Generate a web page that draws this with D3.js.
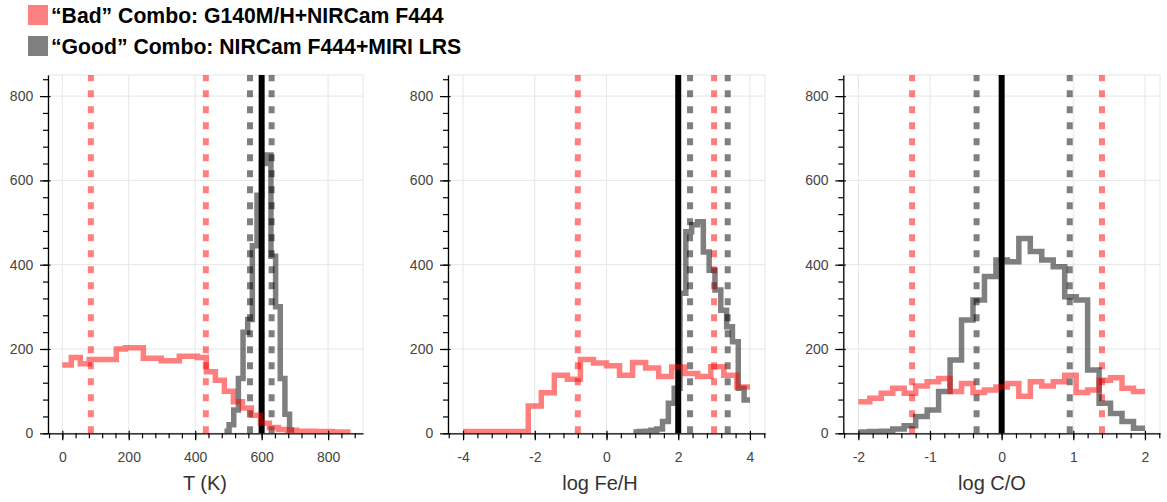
<!DOCTYPE html>
<html><head><meta charset="utf-8">
<script src="https://cdn.jsdelivr.net/npm/d3@7"></script>
<style>
body{margin:0;background:#fff}
svg{display:block}
text{font-family:"Liberation Sans",Arial,Helvetica,sans-serif}
</style>
</head><body>
<svg id="chart" width="1167" height="502"></svg>
<script>
// ---------- data ----------
const legendLabels = ["\u201cBad\u201d Combo: G140M/H+NIRCam F444", "\u201cGood\u201d Combo: NIRCam F444+MIRI LRS"];
const axisTitles = ["T (K)", "log Fe/H", "log C/O"];
const yTicks = [0, 200, 400, 600, 800];
const tTicks = [0, 200, 400, 600, 800];
const feTicks = [-4, -2, 0, 2, 4];
const coTicks = [-2, -1, 0, 1, 2];

// T (K) histograms (bin start, bin width, counts)
const tBadStart = 0, tBadWidth = 27.1;
const tBad = [162,180,165,175,175,175,200,203,203,178,178,172,172,183,183,180,146,126,100,75,60,43,24,14,9,7,5,5,4,4,3,3];
const tGoodStart = 488, tGoodWidth = 14;
const tGood = [5,20,55,130,240,270,445,565,640,660,420,300,130,45,8];
const tTruth = 600;
const tGoodBounds = [565, 630];
const tBadBounds = [86, 432];

// log Fe/H histograms
const feBadStart = -4, feBadWidth = 8 / 22;
const feBad = [4,4,4,4,4,65,96,138,128,175,167,160,138,168,155,135,157,142,135,158,138,110];
const feGoodStart = 0.75, feGoodWidth = 0.1625;
const feGood = [3,4,5,7,10,28,71,107,332,478,495,502,430,387,340,292,253,217,107,79];
const feTruth = 2.0;
const feGoodBounds = [2.33, 3.38];
const feBadBounds = [-0.8, 3.0];

// log C/O histograms
const coBadStart = -2, coBadWidth = 0.16;
const coBad = [75,83,95,107,95,112,122,130,99,118,97,103,110,118,88,122,112,122,138,97,103,126,132,107,99];
const coGoodStart = -2, coGoodWidth = 0.16;
const coGood = [3,4,5,10,18,40,55,99,174,269,316,372,411,407,462,431,411,395,324,316,150,71,47,28,12];
const coTruth = 0.0;
const coGoodBounds = [-0.35, 0.95];
const coBadBounds = [-1.25, 1.4];

// ---------- layout ----------
const panels = [
  {left:48, right:363, domain:[-43, 905], ticks:tTicks, minor:40, title:axisTitles[0], titleX:205,
   bad:{start:tBadStart, width:tBadWidth, v:tBad}, good:{start:tGoodStart, width:tGoodWidth, v:tGood},
   truth:tTruth, goodB:tGoodBounds, badB:tBadBounds},
  {left:448, right:765, domain:[-4.42, 4.42], ticks:feTicks, minor:0.4, title:axisTitles[1], titleX:600,
   bad:{start:feBadStart, width:feBadWidth, v:feBad}, good:{start:feGoodStart, width:feGoodWidth, v:feGood},
   truth:feTruth, goodB:feGoodBounds, badB:feBadBounds},
  {left:843.3, right:1160, domain:[-2.21, 2.21], ticks:coTicks, minor:0.2, title:axisTitles[2], titleX:992,
   bad:{start:coBadStart, width:coBadWidth, v:coBad}, good:{start:coGoodStart, width:coGoodWidth, v:coGood},
   truth:coTruth, goodB:coGoodBounds, badB:coBadBounds}
];
const plotTop = 75, plotBottom = 433.3;
const yDomain = [0, 850];
const RED = "#ff0000", GREY = "#000000";

const svg = d3.select("#chart");
svg.append("rect").attr("width",1167).attr("height",502).attr("fill","#fff");

panels.forEach((p, pi) => {
  const x = d3.scaleLinear().domain(p.domain).range([p.left, p.right]);
  const y = d3.scaleLinear().domain(yDomain).range([plotBottom, plotTop]);
  const g = svg.append("g");
  const clipId = "clip" + pi;
  svg.append("clipPath").attr("id", clipId).append("rect")
    .attr("x", p.left).attr("y", plotTop).attr("width", p.right - p.left).attr("height", plotBottom - plotTop);

  // grid
  const grid = g.append("g").attr("stroke", "#e6e6e6").attr("stroke-width", 1);
  p.ticks.forEach(t => grid.append("line").attr("x1", x(t)).attr("x2", x(t)).attr("y1", plotTop).attr("y2", plotBottom));
  yTicks.forEach(t => grid.append("line").attr("x1", p.left).attr("x2", p.right).attr("y1", y(t)).attr("y2", y(t)));
  g.append("rect").attr("x", p.left).attr("y", plotTop).attr("width", p.right - p.left).attr("height", plotBottom - plotTop)
    .attr("fill", "none").attr("stroke", "#e6e6e6").attr("stroke-width", 1);

  const plot = g.append("g").attr("clip-path", `url(#${clipId})`);

  // vertical lines
  const vline = (val, color, op, dash) => {
    const l = plot.append("line").attr("x1", x(val)).attr("x2", x(val))
      .attr("y1", y(0)).attr("y2", y(yDomain[1]))
      .attr("stroke", color).attr("stroke-opacity", op).attr("stroke-width", 6);
    if (dash) l.attr("stroke-dasharray", "7,9");
  };
  p.badB.forEach(v => vline(v, RED, 0.5, true));
  p.goodB.forEach(v => vline(v, GREY, 0.5, true));
  vline(p.truth, "#000", 1, false);

  // step histograms
  const line = d3.line().x(d => x(d[0])).y(d => y(d[1])).curve(d3.curveStepAfter);
  const hist = (h, color) => {
    const edges = d3.range(h.v.length + 1).map(i => h.start + i * h.width);
    const pts = h.v.map((v, i) => [edges[i], v]);
    pts.push([edges[h.v.length], h.v[h.v.length - 1]]);
    plot.append("path").attr("d", line(pts)).attr("fill", "none")
      .attr("stroke", color).attr("stroke-opacity", 0.5).attr("stroke-width", 5.5)
      .attr("stroke-linejoin", "miter");
  };
  hist(p.good, GREY);
  hist(p.bad, RED);

  // axes
  const fmt = d => String(d);
  const minorX = d3.range(Math.ceil(p.domain[0] / p.minor), Math.floor(p.domain[1] / p.minor) + 1).map(k => +(k * p.minor).toFixed(6));
  const xMinor = g.append("g").attr("transform", `translate(0,${plotBottom})`)
    .call(d3.axisBottom(x).tickValues(minorX).tickSize(5).tickSizeOuter(0).tickFormat(""));
  xMinor.select(".domain").remove();
  const xAx = g.append("g").attr("transform", `translate(0,${plotBottom})`)
    .call(d3.axisBottom(x).tickValues(p.ticks).tickSize(7).tickPadding(11.4).tickSizeOuter(0).tickFormat(fmt));
  xAx.selectAll(".tick line").attr("y1", -2.5);

  const minorY = d3.range(0, 850, 40);
  const yMinor = g.append("g").attr("transform", `translate(${p.left},0)`)
    .call(d3.axisLeft(y).tickValues(minorY).tickSize(5).tickSizeOuter(0).tickFormat(""));
  yMinor.select(".domain").remove();
  const yAx = g.append("g").attr("transform", `translate(${p.left},0)`)
    .call(d3.axisLeft(y).tickValues(yTicks).tickSize(8).tickPadding(6.8).tickSizeOuter(0).tickFormat(fmt));
  yAx.selectAll(".tick line").attr("x1", 2.5);

  [xAx, yAx, xMinor, yMinor].forEach(a => {
    a.selectAll("line").attr("stroke", "#000").attr("stroke-width", 1.2);
    a.select(".domain").attr("stroke", "#000").attr("stroke-width", 1.3);
    a.selectAll("text").attr("font-size", 14).attr("fill", "#444")
      .attr("font-family", "'Liberation Sans', Arial, sans-serif");
  });

  g.append("text").attr("x", p.titleX).attr("y", 490).attr("text-anchor", "middle")
    .attr("font-size", 20).attr("fill", "#333").text(p.title);
});

// legend
const legendColors = ["#ff8080", "#808080"];
legendLabels.forEach((lab, i) => {
  const yy = i === 0 ? 5 : 36;
  svg.append("rect").attr("x", 28).attr("y", yy).attr("width", 20).attr("height", 20).attr("fill", legendColors[i]);
  svg.append("text").attr("x", 51).attr("y", yy + 17.5).attr("font-size", 21.2).attr("font-weight", "bold")
    .attr("fill", "#000").text(lab);
});
</script>
</body></html>
